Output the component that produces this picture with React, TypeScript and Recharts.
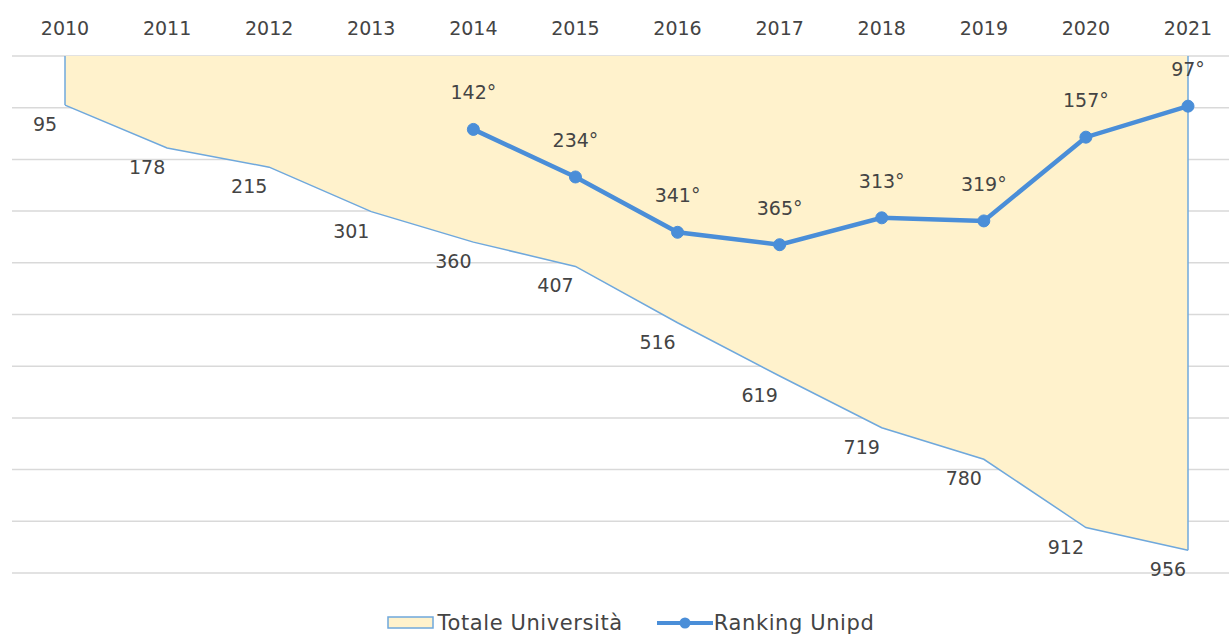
import React from "react";
import {
  ComposedChart,
  Area,
  Line,
  XAxis,
  YAxis,
  CartesianGrid,
  Legend,
  LabelList,
  ReferenceLine,
} from "recharts";

const years = ["2010", "2011", "2012", "2013", "2014", "2015", "2016", "2017", "2018", "2019", "2020", "2021"];
const totaleUniversita = [95, 178, 215, 301, 360, 407, 516, 619, 719, 780, 912, 956];
const rankingUnipd: (number | null)[] = [null, null, null, null, 142, 234, 341, 365, 313, 319, 157, 97];
const yTicks = [0, 100, 200, 300, 400, 500, 600, 700, 800, 900, 1000];

const data = years.map((y, i) => ({
  year: y,
  totale: totaleUniversita[i],
  ranking: rankingUnipd[i],
}));

const FONT = "'DejaVu Sans', Arial, sans-serif";
const TEXT = "#444444";
const AREA_FILL = "#FFF2CC";
const AREA_STROKE = "#6FA8DC";
const LINE = "#4A8ED8";

const AreaLabel = (props: any) => {
  const { x, y, value } = props;
  return (
    <text x={x - 20} y={y + 19} textAnchor="middle" dominantBaseline="central" fill={TEXT} fontSize={19} fontFamily={FONT}>
      {value}
    </text>
  );
};

const RankLabel = (props: any) => {
  const { x, y, value } = props;
  if (value == null) return null;
  return (
    <text x={x} y={y - 37} textAnchor="middle" dominantBaseline="central" fill={TEXT} fontSize={19} fontFamily={FONT}>
      {value + "°"}
    </text>
  );
};

const LegendContent = () => (
  <div style={{ height: 24, display: "flex", justifyContent: "center", alignItems: "center", fontFamily: FONT, fontSize: 21, letterSpacing: 0.6, color: TEXT, paddingLeft: 20 }}>
    <svg width={48} height={14} style={{ marginRight: 3 }}>
      <rect x={1} y={1} width={45} height={11} fill={AREA_FILL} stroke={AREA_STROKE} strokeWidth={1.5} />
    </svg>
    <span style={{ marginRight: 34 }}>Totale Università</span>
    <svg width={56} height={14} style={{ marginRight: 1 }}>
      <line x1={0} y1={7} x2={56} y2={7} stroke={LINE} strokeWidth={4} />
      <circle cx={28} cy={7} r={5.5} fill={LINE} />
    </svg>
    <span>Ranking Unipd</span>
  </div>
);

export default function App() {
  const first = data[0];
  const last = data[data.length - 1];
  return (
    <div style={{ position: "absolute", left: 0, top: 0, background: "#fff" }}>
      <ComposedChart
        width={1229}
        height={637}
        data={data}
        margin={{ top: 26, right: 0, bottom: 40, left: 12 }}
      >
        <CartesianGrid horizontal={true} vertical={false} stroke="#D9D9D9" strokeWidth={1.5} />
        <XAxis
          dataKey="year"
          orientation="top"
          scale="point"
          padding={{ left: 53, right: 41 }}
          height={30}
          tickLine={false}
          axisLine={false}
          tickSize={0}
          tickMargin={21}
          interval={0}
          tick={{ fill: TEXT, fontSize: 19, fontFamily: FONT }}
        />
        <YAxis hide domain={[0, 1000]} reversed ticks={yTicks} type="number" />
        <Area
          type="linear"
          dataKey="totale"
          name="Totale Università"
          fill={AREA_FILL}
          fillOpacity={1}
          stroke={AREA_STROKE}
          strokeWidth={1.5}
          dot={false}
          activeDot={false}
          isAnimationActive={false}
        >
          <LabelList dataKey="totale" content={AreaLabel} />
        </Area>
        <ReferenceLine
          segment={[{ x: first.year, y: 0 }, { x: first.year, y: first.totale }]}
          stroke={AREA_STROKE}
          strokeWidth={1.5}
        />
        <ReferenceLine
          segment={[{ x: last.year, y: 0 }, { x: last.year, y: last.totale }]}
          stroke={AREA_STROKE}
          strokeWidth={1.5}
        />
        <Line
          type="linear"
          dataKey="ranking"
          name="Ranking Unipd"
          stroke={LINE}
          strokeWidth={4.5}
          dot={{ r: 6, fill: LINE, stroke: LINE, strokeWidth: 1 }}
          activeDot={false}
          isAnimationActive={false}
        >
          <LabelList dataKey="ranking" content={RankLabel} />
        </Line>
        <Legend verticalAlign="bottom" align="center" content={LegendContent} wrapperStyle={{ bottom: 2 }} />
      </ComposedChart>
    </div>
  );
}
